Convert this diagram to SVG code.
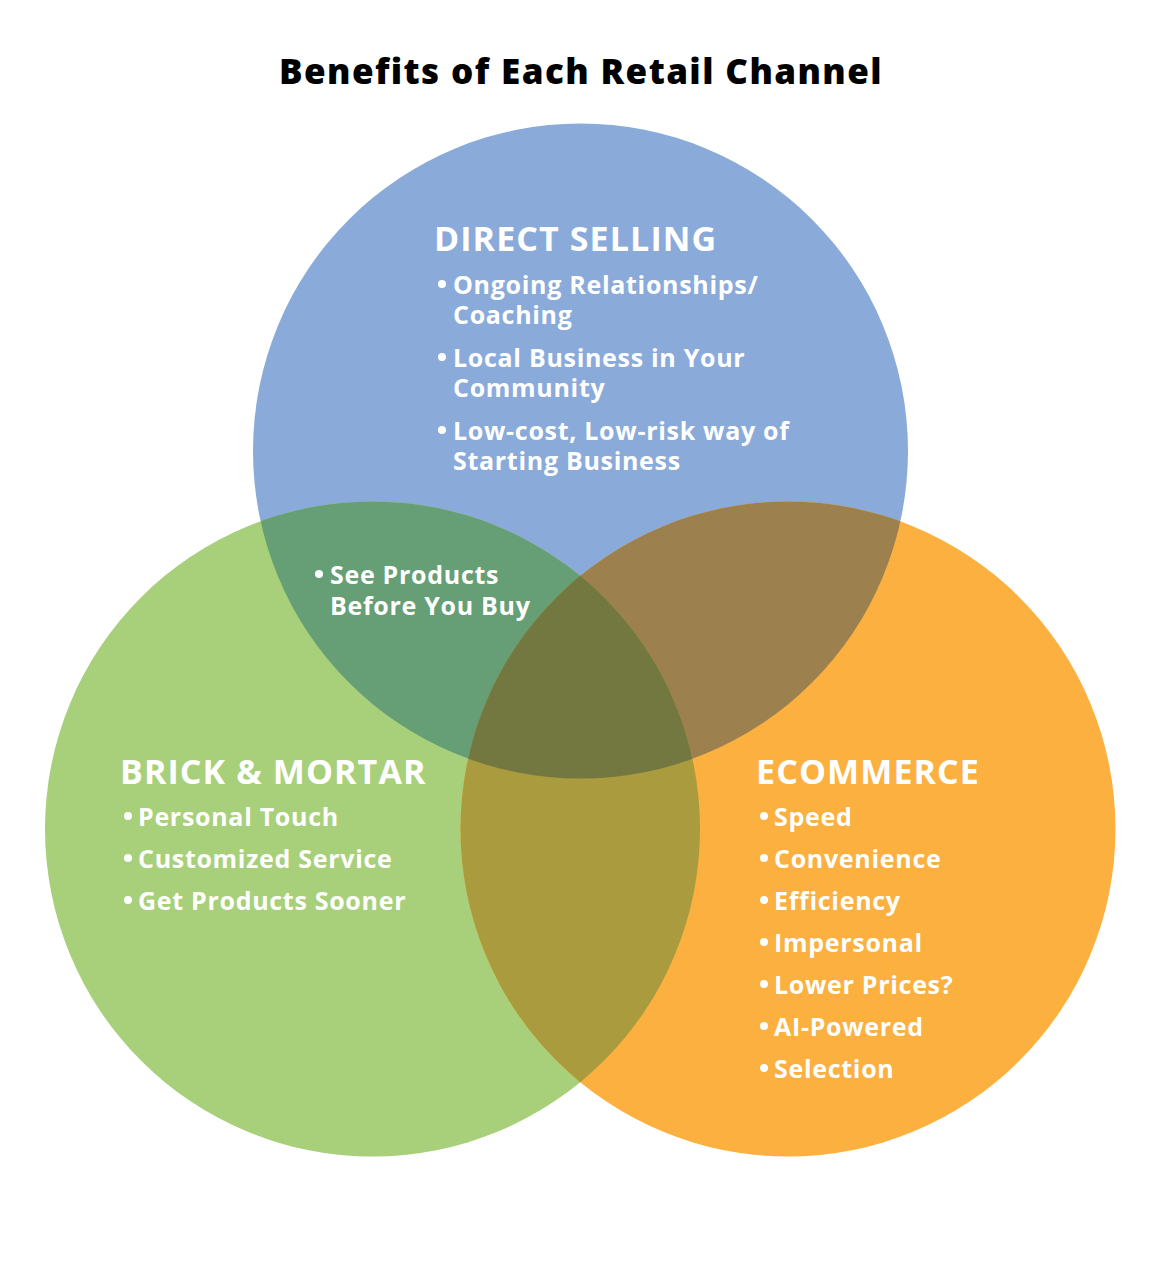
<svg xmlns="http://www.w3.org/2000/svg" width="1150" height="1269" viewBox="0 0 1150 1269">
<style>
.t{font-family:"Open Sans",Lato,sans-serif;font-weight:700;fill:#fff}
.h{font-size:34px;letter-spacing:1.1px}
.b{font-size:25px;letter-spacing:0.7px}
.d{fill:#fff}
.title{font-family:"Open Sans",Lato,sans-serif;font-weight:800;font-size:35px;letter-spacing:1.4px;fill:#000}
</style>
<defs>
<clipPath id="cTop"><circle cx="580.5" cy="451" r="327.5"/></clipPath>
<clipPath id="cLeft"><circle cx="372.5" cy="829" r="327.5"/></clipPath>
<clipPath id="cRight"><circle cx="788" cy="829" r="327.5"/></clipPath>
</defs>
<rect width="1150" height="1269" fill="#fff"/>
<text class="title" x="581" y="84" text-anchor="middle">Benefits of Each Retail Channel</text>
<g id="shapes">
<circle id="direct" cx="580.5" cy="451" r="327.5" fill="#8AABD9"/>
<circle id="brick" cx="372.5" cy="829" r="327.5" fill="#A8D07A"/>
<circle id="ecom" cx="788" cy="829" r="327.5" fill="#FBB040"/>
<g clip-path="url(#cTop)"><circle cx="372.5" cy="829" r="327.5" fill="#669E76"/><circle cx="788" cy="829" r="327.5" fill="#9C804D"/></g>
<g clip-path="url(#cLeft)"><circle cx="788" cy="829" r="327.5" fill="#AA9B3E"/></g>
<g clip-path="url(#cLeft)"><g clip-path="url(#cRight)"><circle cx="580.5" cy="451" r="327.5" fill="#737841"/></g></g>
</g>
<g id="direct-text">
<text class="t h" x="434" y="251">DIRECT SELLING</text>
<circle class="d" cx="442" cy="284" r="4"/>
<text class="t b"><tspan x="453" y="294">Ongoing Relationships/</tspan><tspan x="453" y="324">Coaching</tspan></text>
<circle class="d" cx="442" cy="357" r="4"/>
<text class="t b"><tspan x="453" y="367">Local Business in Your</tspan><tspan x="453" y="397">Community</tspan></text>
<circle class="d" cx="442" cy="430" r="4"/>
<text class="t b"><tspan x="453" y="440">Low-cost, Low-risk way of</tspan><tspan x="453" y="470">Starting Business</tspan></text>
</g>
<g id="overlap-text">
<circle class="d" cx="319" cy="574" r="4"/>
<text class="t b"><tspan x="330" y="584">See Products</tspan><tspan x="330" y="615">Before You Buy</tspan></text>
</g>
<g id="brick-text">
<text class="t h" x="120" y="784">BRICK &amp; MORTAR</text>
<circle class="d" cx="128" cy="816" r="4"/>
<text class="t b" x="138" y="826">Personal Touch</text>
<circle class="d" cx="128" cy="858" r="4"/>
<text class="t b" x="138" y="868">Customized Service</text>
<circle class="d" cx="128" cy="900" r="4"/>
<text class="t b" x="138" y="910">Get Products Sooner</text>
</g>
<g id="ecom-text">
<text class="t h" x="756" y="784">ECOMMERCE</text>
<circle class="d" cx="764" cy="816" r="4"/>
<text class="t b" x="774" y="826">Speed</text>
<circle class="d" cx="764" cy="858" r="4"/>
<text class="t b" x="774" y="868">Convenience</text>
<circle class="d" cx="764" cy="900" r="4"/>
<text class="t b" x="774" y="910">Efficiency</text>
<circle class="d" cx="764" cy="942" r="4"/>
<text class="t b" x="774" y="952">Impersonal</text>
<circle class="d" cx="764" cy="984" r="4"/>
<text class="t b" x="774" y="994">Lower Prices?</text>
<circle class="d" cx="764" cy="1026" r="4"/>
<text class="t b" x="774" y="1036">AI-Powered</text>
<circle class="d" cx="764" cy="1068" r="4"/>
<text class="t b" x="774" y="1078">Selection</text>
</g>
</svg>
